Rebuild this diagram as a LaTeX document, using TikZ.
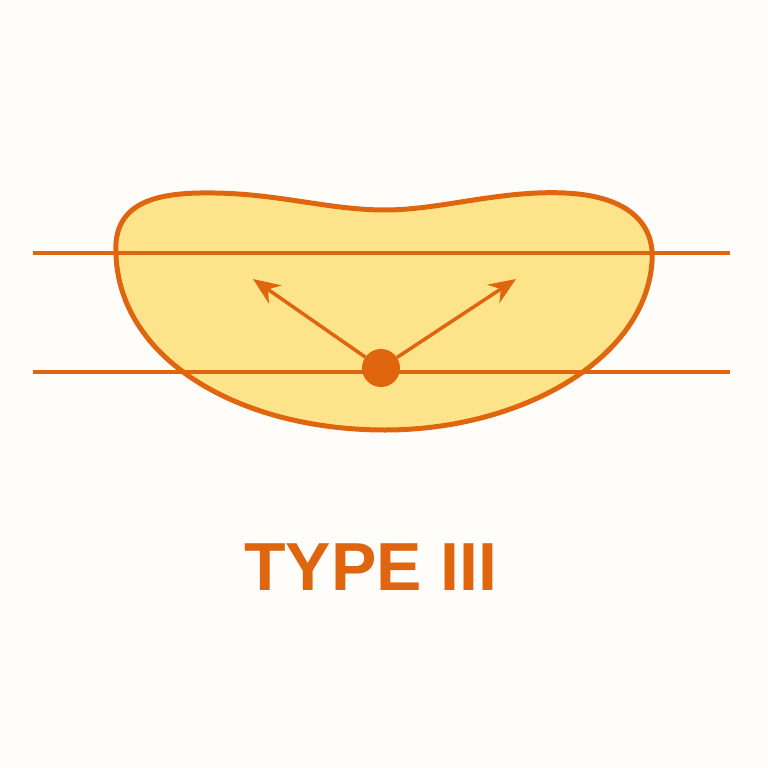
\documentclass[tikz,border=0pt]{standalone}
\usepackage{fontspec}
\usepackage{tikz}
\usetikzlibrary{arrows.meta,positioning,calc}
\newfontfamily\labelfont{Liberation Sans}
\tikzset{>=Stealth}

\begin{document}
\begin{tikzpicture}[x=1pt, y=-1pt]
\definecolor{rust}{HTML}{E0650F}
\definecolor{butter}{HTML}{FDE48A}
\definecolor{paper}{HTML}{FEFDFA}

% Fondo
\fill[paper] (0,0) rectangle (768,768);
\useasboundingbox (0,0) rectangle (768,768);

% Region
\draw[rust, line width=5pt, fill=butter] (116,255)
  .. controls (112,200) and (160,192) .. (215,193)
  .. controls (280,194) and (330,210) .. (385,210)
  .. controls (440,210) and (500,190) .. (565,193)
  .. controls (630,196) and (655,225) .. (652,262)
  .. controls (645,360) and (520,430) .. (385,430)
  .. controls (240,430) and (120,360) .. (116,255) -- cycle;

% Lineas
\coordinate (upperW) at (33,253);
\coordinate (upperE) at (730,253);
\coordinate (lowerW) at (33,372);
\coordinate (lowerE) at (730,372);
\draw[rust, line width=3.2pt] (upperW) -- (upperE);
\draw[rust, line width=3.2pt] (lowerW) -- (lowerE);

% Punto y flechas
\node[circle, fill=rust, inner sep=0pt, minimum size=38pt] (src) at (381,368) {};
\coordinate (tipW) at (253,279);
\coordinate (tipE) at (516,279);
\draw[rust, line width=3.5pt, -{Stealth[length=27pt,width=22pt]}] (src) -- (tipW);
\draw[rust, line width=3.5pt, -{Stealth[length=27pt,width=22pt]}] (src) -- (tipE);

% Etiqueta
\node[rust, anchor=base, inner sep=0pt, font=\labelfont\bfseries\fontsize{68}{68}\selectfont] (lab) at (371,590) {TYPE III};

\end{tikzpicture}
\end{document}
